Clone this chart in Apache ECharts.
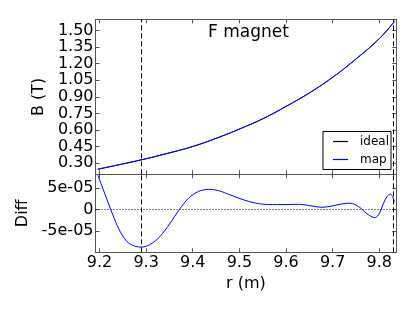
<!DOCTYPE html>
<html>
<head>
<meta charset="utf-8">
<script src="https://cdn.jsdelivr.net/npm/echarts@6/dist/echarts.min.js"></script>
<style>
html,body{margin:0;padding:0;background:#fff;}
#chart{width:415px;height:312px;}
</style>
</head>
<body>
<div id="chart"></div>
<script>
// ---- data ----
const rB = [9.1964, 9.2870, 9.3440, 9.4015, 9.4590, 9.5020, 9.5520, 9.6000, 9.6520, 9.7010, 9.7450, 9.8000, 9.8326];
const mapB = [0.246, 0.328, 0.387, 0.453, 0.539, 0.612, 0.705, 0.813, 0.940, 1.079, 1.224, 1.425, 1.581];
const idealB = [0.246, 0.328, 0.387, 0.453, 0.539, 0.612, 0.705, 0.813, 0.940, 1.079, 1.224, 1.425, 1.581];

const rDiff = [9.1964, 9.2084, 9.2242, 9.2406, 9.2586, 9.2764, 9.2908, 9.3086, 9.3300, 9.3515, 9.3715, 9.3908, 9.4122, 9.4337, 9.4552, 9.4800, 9.5100, 9.5340, 9.5624, 9.5980, 9.6270, 9.6556, 9.6770, 9.6985, 9.7200, 9.7378, 9.7556, 9.7736, 9.7900, 9.7985, 9.8092, 9.8165, 9.8236, 9.8285, 9.8326];
const diffVals = [8.0e-5, 4.56e-5, 0, -4.35e-5, -7.47e-5, -8.6e-5, -8.77e-5, -8.2e-5, -6.3e-5, -3.2e-5, 0, 2.6e-5, 4.2e-5, 4.7e-5, 4.4e-5, 3.4e-5, 2.2e-5, 1.5e-5, 1.14e-5, 1.14e-5, 1.2e-5, 8e-6, 5e-6, 8e-6, 1.3e-5, 1.46e-5, 6.7e-6, -1.0e-5, -1.9e-5, -1.26e-5, 1.46e-5, 3.0e-5, 3.6e-5, 3.0e-5, 1.7e-5];

const dashR = [9.2886, 9.8285];

const xTicks = [9.2, 9.3, 9.4, 9.5, 9.6, 9.7, 9.8];
const xTickLabels = ['9.2', '9.3', '9.4', '9.5', '9.6', '9.7', '9.8'];
const bTicks = [0.30, 0.45, 0.60, 0.75, 0.90, 1.05, 1.20, 1.35, 1.50];
const bTickLabels = ['0.30', '0.45', '0.60', '0.75', '0.90', '1.05', '1.20', '1.35', '1.50'];
const diffTicks = [-5e-5, 0, 5e-5];
const diffTickLabels = ['-5e-05', '0', '5e-05'];

const titleText = 'F magnet';
const legendNames = ['ideal', 'map'];

// ---- chart ----
const FONT = 'DejaVu Sans';
const FRAME = '#555';
const X_MIN = 9.1915, X_MAX = 9.8365;

function labelFor(ticks, labels) {
  return function (v) {
    for (let i = 0; i < ticks.length; i++) {
      if (Math.abs(v - ticks[i]) < 1e-9) return labels[i];
    }
    return '';
  };
}

const tickStyle = { show: true, inside: true, length: 4, lineStyle: { color: FRAME, width: 1 } };
const lineStyleFrame = { show: true, onZero: false, lineStyle: { color: FRAME, width: 1 } };

function xAx(gridIndex, position, showLabels, name) {
  return {
    type: 'value', gridIndex: gridIndex, position: position,
    min: X_MIN, max: X_MAX,
    axisLine: lineStyleFrame,
    axisTick: Object.assign({ customValues: xTicks }, tickStyle),
    axisLabel: {
      show: showLabels, customValues: xTicks, formatter: labelFor(xTicks, xTickLabels),
      fontFamily: FONT, fontSize: 16, color: '#000', margin: 3
    },
    splitLine: { show: false },
    name: name || '', nameLocation: 'middle', nameGap: 24,
    nameTextStyle: { fontFamily: FONT, fontSize: 16, color: '#000' }
  };
}

function yAx(gridIndex, position, min, max, ticks, labels, showLabels, name, nameGap) {
  return {
    type: 'value', gridIndex: gridIndex, position: position,
    min: min, max: max,
    axisLine: lineStyleFrame,
    axisTick: Object.assign({ customValues: ticks }, tickStyle),
    axisLabel: {
      show: showLabels, customValues: ticks, formatter: labelFor(ticks, labels),
      fontFamily: FONT, fontSize: 16, color: '#000', margin: 2
    },
    splitLine: { show: false },
    name: name || '', nameLocation: 'middle', nameGap: nameGap || 0,
    nameTextStyle: { fontFamily: FONT, fontSize: 16, color: '#000' }
  };
}

const chart = echarts.init(document.getElementById('chart'), null, { renderer: 'canvas' });

const option = {
  animation: false,
  backgroundColor: '#fff',
  textStyle: { fontFamily: FONT },
  title: {
    text: titleText, left: 203, top: 19,
    textStyle: { fontFamily: FONT, fontSize: 17, fontWeight: 'normal', color: '#000' }
  },
  legend: {
    data: legendNames, orient: 'vertical', right: 24, top: 131.5,
    icon: 'rect', itemWidth: 15, itemHeight: 1.2, itemGap: 4,
    padding: [3, 2, 3, 10],
    borderColor: '#000', borderWidth: 1, backgroundColor: '#fff',
    textStyle: { fontFamily: FONT, fontSize: 12, color: '#000', padding: [0, 0, 0, 7], lineHeight: 14 }
  },
  grid: [
    { left: 95.5, right: 18.7, top: 19.3, height: 155, containLabel: false },
    { left: 95.5, right: 18.7, top: 174.3, height: 78, containLabel: false }
  ],
  xAxis: [
    xAx(0, 'bottom', false),
    xAx(0, 'top', false),
    xAx(1, 'bottom', true, 'r (m)'),
    xAx(1, 'top', false)
  ],
  yAxis: [
    yAx(0, 'left', 0.2, 1.6, bTicks, bTickLabels, true, 'B (T)', 37),
    yAx(0, 'right', 0.2, 1.6, bTicks, bTickLabels, false),
    yAx(1, 'left', -1.0e-4, 8.2e-5, diffTicks, diffTickLabels, true, 'Diff', 57),
    yAx(1, 'right', -1.0e-4, 8.2e-5, diffTicks, diffTickLabels, false)
  ],
  series: [
    {
      name: 'ideal', type: 'line', xAxisIndex: 0, yAxisIndex: 0,
      data: rB.map((r, i) => [r, idealB[i]]),
      showSymbol: false, symbol: 'none', smooth: 0.4,
      lineStyle: { color: '#000', width: 1 }, itemStyle: { color: '#000' }
    },
    {
      name: 'map', type: 'line', xAxisIndex: 0, yAxisIndex: 0,
      data: rB.map((r, i) => [r, mapB[i]]),
      showSymbol: false, symbol: 'none', smooth: 0.4,
      lineStyle: { color: '#0000ff', width: 1 }, itemStyle: { color: '#0000ff' },
      markLine: {
        silent: true, symbol: ['none', 'none'], label: { show: false },
        lineStyle: { color: '#000', width: 1, type: [5, 3] },
        data: dashR.map(v => ({ xAxis: v }))
      }
    },
    {
      name: 'diff', type: 'line', xAxisIndex: 2, yAxisIndex: 2,
      data: rDiff.map((r, i) => [r, diffVals[i]]),
      showSymbol: false, symbol: 'none', smooth: 0.3,
      lineStyle: { color: '#0000ff', width: 1 }, itemStyle: { color: '#0000ff' },
      markLine: {
        silent: true, symbol: ['none', 'none'], label: { show: false },
        data: [
          { yAxis: 0, lineStyle: { color: '#000', width: 1, type: [1, 2] } }
        ].concat(dashR.map(v => ({ xAxis: v, lineStyle: { color: '#000', width: 1, type: [5, 3] } })))
      }
    }
  ]
};

chart.setOption(option);
</script>
</body>
</html>
